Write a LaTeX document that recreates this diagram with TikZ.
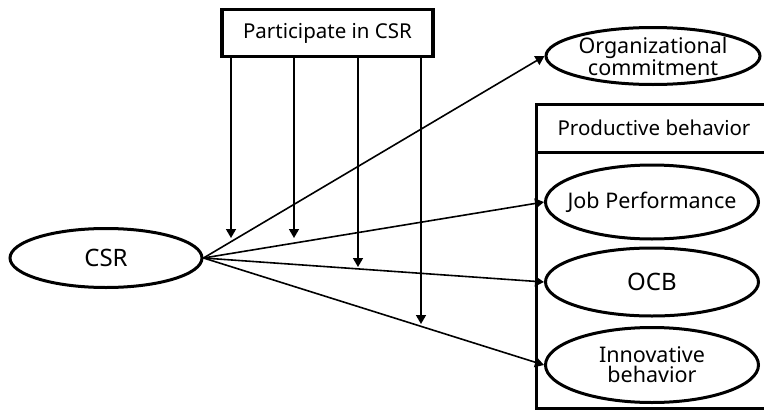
\documentclass[tikz,border=0pt]{standalone}
\usepackage{fontspec}
\setmainfont{Noto Sans}
\usepackage{tikz}
\usetikzlibrary{shapes.geometric,arrows.meta,positioning}

\tikzset{
  var/.style={ellipse, draw, line width=3pt, inner sep=0pt, align=center},
  big/.style={font=\fontsize{24}{24}\selectfont},
  mid/.style={font=\fontsize{21.5}{20}\selectfont},
  arr/.style={line width=1.6pt, -{Triangle[length=9pt,width=10pt]}}
}
\newcommand{\fitin}[1]{\makebox[0pt]{#1}}

\begin{document}
\begin{tikzpicture}[x=1pt,y=-1pt,font=\fontsize{20.5}{20}\selectfont]
\useasboundingbox (0,0) rectangle (764,410);

% Moderator
\node[draw, line width=3.4pt, minimum width=211pt, minimum height=47pt] (part) at (327.5,33) {Participate in CSR};

% Independent variable
\node[var, big, minimum width=192pt, minimum height=59pt] (csr) at (106,258) {CSR};

% Outcome
\node[var, mid, minimum width=214pt, minimum height=57pt] (org) at (653,56) {\fitin{Organizational}\\\fitin{commitment}};

% Productive behavior box
\draw[line width=3pt] (770,104) -- (536,104) -- (536,408) -- (770,408);
\draw[line width=3pt] (536,152) -- (770,152);
\node (prod) at (654,128) {Productive behavior};

\node[var, mid, minimum width=213pt, minimum height=74pt] (job) at (652,202) {\fitin{Job Performance}};
\node[var, big, minimum width=213pt, minimum height=68pt] (ocb) at (652,282) {OCB};
\node[var, mid, minimum width=213pt, minimum height=75pt] (inno) at (652,365) {\fitin{Innovative}\\\fitin{behavior}};

% Paths from CSR
\draw[arr] (csr.east) -- (org.west);
\draw[arr] (csr.east) -- (job.west);
\draw[arr] (csr.east) -- (ocb.west);
\draw[arr] (csr.east) -- (inno.west);

% Moderating arrows
\coordinate (m1) at (231,238);
\coordinate (m2) at (294,238);
\coordinate (m3) at (358,267);
\coordinate (m4) at (421,324);
\foreach \m in {m1,m2,m3,m4}
  \draw[arr] (part.south -| \m) -- (\m);

\end{tikzpicture}
\end{document}
